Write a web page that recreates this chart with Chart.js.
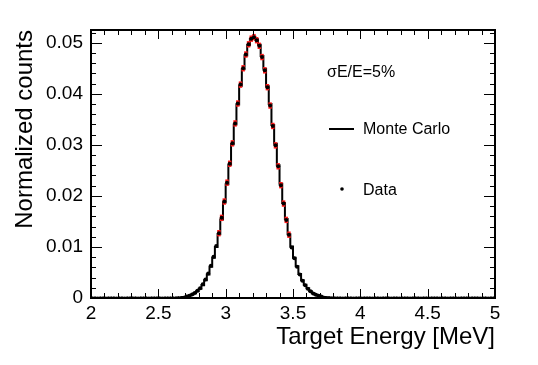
<!DOCTYPE html>
<html>
<head>
<meta charset="utf-8">
<script src="https://cdn.jsdelivr.net/npm/chart.js@4.4.0/dist/chart.umd.min.js"></script>
<style>
  html, body { margin: 0; padding: 0; background: #fff; }
  #wrap { width: 538px; height: 365px; }
</style>
</head>
<body>
<div id="wrap"><canvas id="spectrum" width="538" height="365"></canvas></div>
<script>
// bins: 0.02 MeV wide, centres 2.01 ... 4.99
var binStart = 2.01;
var binWidth = 0.02;

// Monte Carlo histogram (normalized counts per bin)
var mcCounts = [
    0.00003, 0.00004, 0.00003, 0.00004, 0.00003, 0.00004, 0.00004, 0.00003, 0.00004, 0.00004,
    0.00003, 0.00004, 0.00004, 0.00003, 0.00004, 0.00004, 0.00003, 0.00004, 0.00004, 0.00004,
    0.00003, 0.00004, 0.00004, 0.00004, 0.00003, 0.00004, 0.00004, 0.00004, 0.00004, 0.00005,
    0.00005, 0.00006, 0.00008, 0.00012, 0.00018, 0.00028, 0.00042, 0.00063, 0.00091, 0.0013,
    0.0018, 0.0025, 0.0035, 0.0046, 0.0061, 0.0079, 0.0100, 0.0125, 0.0154, 0.0187,
    0.0223, 0.0261, 0.0301, 0.0340, 0.0379, 0.0416, 0.0448, 0.0475, 0.0495, 0.0508,
    0.0512, 0.0507, 0.0496, 0.0474, 0.0449, 0.0415, 0.0380, 0.0339, 0.0302, 0.0260,
    0.0224, 0.0186, 0.0155, 0.0125, 0.0101, 0.0079, 0.0062, 0.0047, 0.0035, 0.0026,
    0.0019, 0.0013, 0.00095, 0.00066, 0.00045, 0.00031, 0.0002, 0.00014, 0.0001, 0.00007,
    0.00006, 0.00005, 0.00005, 0.00004, 0.00004, 0.00004, 0.00004, 0.00003, 0.00004, 0.00004,
    0.00003, 0.00004, 0.00004, 0.00003, 0.00004, 0.00004, 0.00003, 0.00004, 0.00003, 0.00004,
    0.00004, 0.00003, 0.00004, 0.00004, 0.00003, 0.00004, 0.00003, 0.00004, 0.00004, 0.00003,
    0.00004, 0.00003, 0.00004, 0.00004, 0.00003, 0.00004, 0.00003, 0.00004, 0.00003, 0.00004,
    0.00003, 0.00004, 0.00004, 0.00003, 0.00004, 0.00003, 0.00004, 0.00003, 0.00004, 0.00003,
    0.00004, 0.00003, 0.00004, 0.00003, 0.00004, 0.00003, 0.00004, 0.00003, 0.00004, 0.00003
];

// measured data, same binning
var dataCounts = [
    0.00004, 0.00005, 0.00003, 0.00004, 0.00005, 0.00003, 0.00004, 0.00005, 0.00004, 0.00003,
    0.00005, 0.00004, 0.00003, 0.00005, 0.00004, 0.00004, 0.00005, 0.00003, 0.00004, 0.00005,
    0.00004, 0.00003, 0.00005, 0.00004, 0.00004, 0.00005, 0.00003, 0.00004, 0.00005, 0.00004,
    0.00004, 0.00007, 0.0001, 0.00014, 0.0002, 0.0003, 0.00045, 0.0007, 0.001, 0.0014,
    0.0019, 0.0027, 0.0036, 0.0048, 0.0063, 0.0081, 0.0102, 0.0127, 0.0157, 0.0189,
    0.0226, 0.0263, 0.0303, 0.0342, 0.0381, 0.0418, 0.0450, 0.0477, 0.0497, 0.0508,
    0.0511, 0.0505, 0.0494, 0.0472, 0.0446, 0.0413, 0.0377, 0.0337, 0.0299, 0.0258,
    0.0221, 0.0185, 0.0153, 0.0124, 0.0099, 0.0078, 0.0061, 0.0046, 0.0034, 0.0025,
    0.0018, 0.0013, 0.0009, 0.00064, 0.00044, 0.0003, 0.0002, 0.00013, 0.00009, 0.00006,
    0.00005, 0.00004, 0.00005, 0.00003, 0.00004, 0.00005, 0.00004, 0.00003, 0.00005, 0.00004,
    0.00003, 0.00005, 0.00004, 0.00004, 0.00003, 0.00005, 0.00004, 0.00003, 0.00004, 0.00005,
    0.00004, 0.00003, 0.00005, 0.00004, 0.00003, 0.00004, 0.00005, 0.00004, 0.00003, 0.00004,
    0.00005, 0.00004, 0.00003, 0.00004, 0.00005, 0.00003, 0.00004, 0.00005, 0.00004, 0.00003,
    0.00004, 0.00005, 0.00003, 0.00004, 0.00004, 0.00005, 0.00003, 0.00004, 0.00005, 0.00004,
    0.00003, 0.00004, 0.00005, 0.00004, 0.00003, 0.00004, 0.00005, 0.00003, 0.00004, 0.00004
];

var xTicks = [2, 2.5, 3, 3.5, 4, 4.5, 5];
var yTicks = [0, 0.01, 0.02, 0.03, 0.04, 0.05];

var xTitle = 'Target Energy [MeV]';
var yTitle = 'Normalized counts';
var resLabel = 'σE/E=5%';
var mcLabel = 'Monte Carlo';
var dataLabel = 'Data';

var fontFamily = '"Liberation Sans", Arial, Helvetica, sans-serif';

function toPoints(counts) {
    return counts.map(function(v, i) {
        return { x: binStart + i * binWidth, y: v };
    });
}

// ROOT style frame with inner ticks on all four sides
var frameTicks = {
    id: 'frameTicks',
    afterDraw: function(chart) {
        var ctx = chart.ctx;
        var a = chart.chartArea;
        var xs = chart.scales.x, ys = chart.scales.y;
        ctx.save();
        ctx.strokeStyle = '#000';
        ctx.lineWidth = 1;
        ctx.beginPath();
        for (var k = 0; k <= 30; k++) {
            var xv = 2 + k * 0.1;
            var px = Math.round(xs.getPixelForValue(xv)) + 0.5;
            var len = (k % 5 === 0) ? 9 : 5;
            ctx.moveTo(px, a.bottom); ctx.lineTo(px, a.bottom - len);
            ctx.moveTo(px, a.top); ctx.lineTo(px, a.top + len);
        }
        for (var j = 0; j <= 26; j++) {
            var yv = j * 0.002;
            var py = Math.round(ys.getPixelForValue(yv)) + 0.5;
            var ylen = (j % 5 === 0) ? 11 : 5;
            ctx.moveTo(a.left, py); ctx.lineTo(a.left + ylen, py);
            ctx.moveTo(a.right, py); ctx.lineTo(a.right - ylen, py);
        }
        ctx.stroke();
        ctx.lineWidth = 2;
        ctx.strokeRect(a.left, a.top, a.right - a.left, a.bottom - a.top);
        ctx.restore();
    }
};

// legend text drawn inside the frame
var innerLegend = {
    id: 'innerLegend',
    afterDraw: function(chart) {
        var ctx = chart.ctx;
        ctx.save();
        ctx.fillStyle = '#000';
        ctx.font = '16px ' + fontFamily;
        ctx.textBaseline = 'middle';
        ctx.textAlign = 'left';
        ctx.fillText(resLabel, 327, 73);
        ctx.fillText(mcLabel, 363, 130);
        ctx.fillText(dataLabel, 363, 191);
        ctx.lineWidth = 2;
        ctx.beginPath();
        ctx.moveTo(329, 129); ctx.lineTo(354, 129);
        ctx.stroke();
        ctx.beginPath();
        ctx.arc(342, 189, 1.8, 0, Math.PI * 2);
        ctx.fill();
        ctx.restore();
    }
};

var config = {
    type: 'line',
    data: {
        datasets: [{
            label: mcLabel,
            data: toPoints(mcCounts),
            borderColor: '#000',
            borderWidth: 2,
            stepped: 'middle',
            pointRadius: 0,
            fill: false,
            order: 3
        }, {
            label: dataLabel + ' errors',
            type: 'scatter',
            data: toPoints(dataCounts),
            pointStyle: 'line',
            rotation: 90,
            borderColor: '#ff1a1a',
            borderWidth: 3.5,
            pointRadius: function(c) {
                return c.raw && c.raw.y > 0.012 ? 3.2 : 0;
            },
            order: 2
        }, {
            label: dataLabel,
            type: 'scatter',
            data: toPoints(dataCounts),
            backgroundColor: '#000',
            borderColor: '#000',
            borderWidth: 0,
            pointRadius: function(c) {
                return c.raw && c.raw.y > 0.0002 ? 2 : 1.2;
            },
            order: 1
        }]
    },
    options: {
        responsive: false,
        animation: false,
        events: [],
        layout: {
            padding: { top: 30, right: 43, bottom: 0, left: 0 }
        },
        plugins: {
            legend: { display: false },
            tooltip: { enabled: false }
        },
        scales: {
            x: {
                type: 'linear',
                min: 2,
                max: 5,
                afterBuildTicks: function(scale) {
                    scale.ticks = xTicks.map(function(v) { return { value: v }; });
                },
                afterFit: function(scale) { scale.height = 67; },
                grid: { display: false, drawTicks: false, tickLength: 0 },
                border: { display: false },
                ticks: {
                    color: '#000',
                    padding: 4,
                    maxRotation: 0,
                    font: { family: fontFamily, size: 19 },
                    callback: function(v) { return String(v); }
                },
                title: {
                    display: true,
                    text: xTitle,
                    align: 'end',
                    color: '#000',
                    padding: { top: 0, bottom: 13 },
                    font: { family: fontFamily, size: 24 }
                }
            },
            y: {
                type: 'linear',
                min: 0,
                max: 0.0525,
                afterBuildTicks: function(scale) {
                    scale.ticks = yTicks.map(function(v) { return { value: v }; });
                },
                afterFit: function(scale) { scale.width = 91; },
                grid: { display: false, drawTicks: false, tickLength: 0 },
                border: { display: false },
                ticks: {
                    color: '#000',
                    padding: 8,
                    font: { family: fontFamily, size: 19 },
                    callback: function(v) { return v === 0 ? '0' : v.toFixed(2); }
                },
                title: {
                    display: true,
                    text: yTitle,
                    align: 'end',
                    color: '#000',
                    padding: { top: 11, bottom: 0 },
                    font: { family: fontFamily, size: 24 }
                }
            }
        }
    },
    plugins: [frameTicks, innerLegend]
};

window.onload = function() {
    var ctx = document.getElementById('spectrum').getContext('2d');
    window.spectrumChart = new Chart(ctx, config);
};
</script>
</body>
</html>
